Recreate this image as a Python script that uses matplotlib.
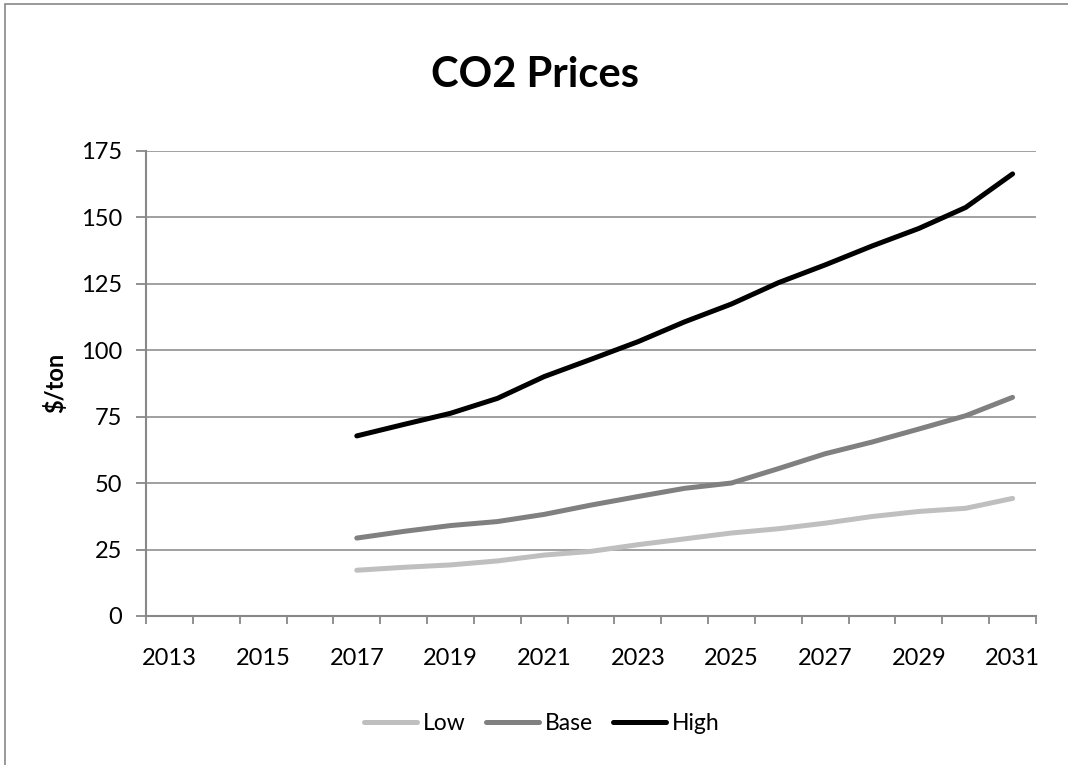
import matplotlib
matplotlib.use("Agg")
import matplotlib.pyplot as plt
from matplotlib.patches import Rectangle

plt.rcParams['font.family'] = ['Lato', 'DejaVu Sans']

years = list(range(2013, 2032))
data_years = list(range(2017, 2032))
low = [17.2, 18.3, 19.2, 20.7, 22.9, 24.3, 26.8, 29.0, 31.2, 32.8, 34.9, 37.4, 39.3, 40.5, 44.2]
base = [29.3, 31.8, 34.0, 35.5, 38.2, 41.7, 44.9, 48.0, 50.0, 55.4, 61.0, 65.4, 70.3, 75.3, 82.2]
high = [67.7, 72.0, 76.2, 81.8, 90.0, 96.5, 103.1, 110.6, 117.3, 125.3, 132.0, 139.1, 145.7, 153.6, 166.2]
series_names = ["Low", "Base", "High"]
series_colors = ["#BFBFBF", "#808080", "#000000"]
y_ticks = [0, 25, 50, 75, 100, 125, 150, 175]

W, H = 1068, 765
fig = plt.figure(figsize=(W / 100, H / 100), dpi=100)
fig.patch.set_facecolor("white")

# outer chart border (right and bottom edges fall outside the image)
fig.add_artist(Rectangle((5 / W, -0.2), 1.2, 1.2 - 4 / H, transform=fig.transFigure,
                         fill=False, edgecolor="#888888", linewidth=1.2))

ax = fig.add_axes([146 / W, 1 - 616 / H, (1036 - 146) / W, (616 - 150.5) / H])

xpos = {y: i for i, y in enumerate(years)}
for name, vals, col in zip(series_names, [low, base, high], series_colors):
    ax.plot([xpos[y] for y in data_years], vals, color=col, linewidth=3.6,
            solid_capstyle="round", solid_joinstyle="round", label=name)

ax.set_xlim(-0.5, len(years) - 0.5)
ax.set_ylim(0, 175)
ax.set_yticks(y_ticks)
ax.set_yticklabels([str(v) for v in y_ticks])
ax.yaxis.grid(True, color="#999999", linewidth=1.3)
ax.set_axisbelow(True)

# category boundaries as tick marks, labels at category centres
ax.set_xticks([i - 0.5 for i in range(len(years) + 1)])
ax.set_xticklabels([])
ax.set_xticks([xpos[y] for y in years[::2]], minor=True)
ax.set_xticklabels([str(y) for y in years[::2]], minor=True)
ax.tick_params(axis="x", which="major", length=6, width=1.3, color="#888888", direction="out")
ax.tick_params(axis="x", which="minor", length=0, pad=23, labelsize=17)
ax.tick_params(axis="y", length=7, width=1.3, color="#888888", direction="out", pad=10, labelsize=17)

for s in ["top", "right"]:
    ax.spines[s].set_visible(False)
for s in ["left", "bottom"]:
    ax.spines[s].set_color("#888888")
    ax.spines[s].set_linewidth(1.5)

ax.set_ylabel("$/ton", fontsize=17, fontweight="bold", labelpad=10)

fig.text(535 / W, 1 - 75 / H, "CO2 Prices", ha="center", va="center",
         fontsize=30, fontweight="bold")

fig.legend(loc="center", bbox_to_anchor=(542 / W, 1 - 724 / H), ncol=3, frameon=False,
           fontsize=16.5, handlelength=2.3, handletextpad=0.25, columnspacing=0.9)

fig.savefig("out.png", dpi=100, facecolor="white")
